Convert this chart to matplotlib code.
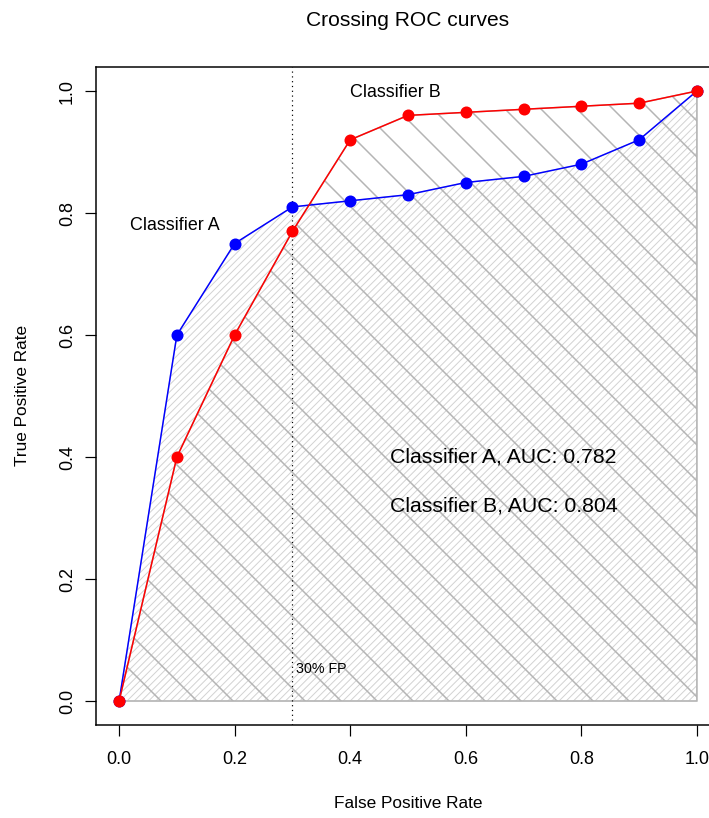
import matplotlib
matplotlib.use('Agg')
import matplotlib.pyplot as plt

plt.rcParams['font.family'] = ['Liberation Sans', 'DejaVu Sans']

# dane
fpr = [0.0, 0.1, 0.2, 0.3, 0.4, 0.5, 0.6, 0.7, 0.8, 0.9, 1.0]
tpr_a = [0.0, 0.60, 0.75, 0.81, 0.82, 0.83, 0.85, 0.86, 0.88, 0.92, 1.0]
tpr_b = [0.0, 0.40, 0.60, 0.77, 0.92, 0.96, 0.965, 0.97, 0.975, 0.98, 1.0]
auc_a = 0.782
auc_b = 0.804
ticks = [0.0, 0.2, 0.4, 0.6, 0.8, 1.0]

W, H = 709, 818
dpi = 108
fig = plt.figure(figsize=(W / dpi, H / dpi), dpi=dpi)
ax = fig.add_axes([96 / W, (H - 725.4) / H, 624 / W, 658.8 / H])
ax.set_xlim(-0.04, 1.04)
ax.set_ylim(-0.04, 1.04)

# wielokaty pod krzywymi (kreskowanie)
poly_a = ax.fill(fpr + [1.0], tpr_a + [0.0], facecolor='none', edgecolor='#d2d2d2',
                 hatch='/////', lw=0.8, zorder=1)[0]
poly_b = ax.fill(fpr + [1.0], tpr_b + [0.0], facecolor='none', edgecolor='#b4b4b4',
                 hatch='\\', lw=1.0, zorder=1)[0]
if hasattr(poly_a, 'set_hatch_linewidth'):
    poly_a.set_hatch_linewidth(0.65)
    poly_b.set_hatch_linewidth(1.0)

ax.axvline(0.3, color='black', ls=(0, (1, 3)), lw=0.8, zorder=2)

ax.plot(fpr, tpr_a, color='blue', lw=1.0, marker='o', ms=7, zorder=3)
ax.plot(fpr, tpr_b, color='red', lw=1.0, marker='o', ms=7, zorder=4)

ax.text(0.097, 0.78, 'Classifier A', fontsize=11.9, ha='center', va='center')
ax.text(0.478, 0.997, 'Classifier B', fontsize=11.9, ha='center', va='center')
ax.text(0.306, 0.052, '30% FP', fontsize=9.5, ha='left', va='center')
ax.text(0.468, 0.40, 'Classifier A, AUC: %.3f' % auc_a, fontsize=14.2, ha='left', va='center')
ax.text(0.468, 0.32, 'Classifier B, AUC: %.3f' % auc_b, fontsize=14.2, ha='left', va='center')

ax.set_xticks(ticks)
ax.set_yticks(ticks)
ax.set_xticklabels(['%.1f' % t for t in ticks])
ax.set_yticklabels(['%.1f' % t for t in ticks], rotation=90, va='center')
ax.tick_params(axis='both', direction='out', length=7.3, width=0.8, labelsize=12)
ax.tick_params(axis='x', pad=10)
ax.tick_params(axis='y', pad=6)
for s in ax.spines.values():
    s.set_linewidth(1.0)

fig.text(408 / W, 1 - 20 / H, 'Crossing ROC curves', fontsize=14, ha='center', va='center')
fig.text(408 / W, 1 - 804 / H, 'False Positive Rate', fontsize=11.5, ha='center', va='center')
fig.text(23 / W, 1 - 395 / H, 'True Positive Rate', fontsize=11.5, ha='center', va='center',
         rotation=90)

fig.savefig('out.png', dpi=dpi)
